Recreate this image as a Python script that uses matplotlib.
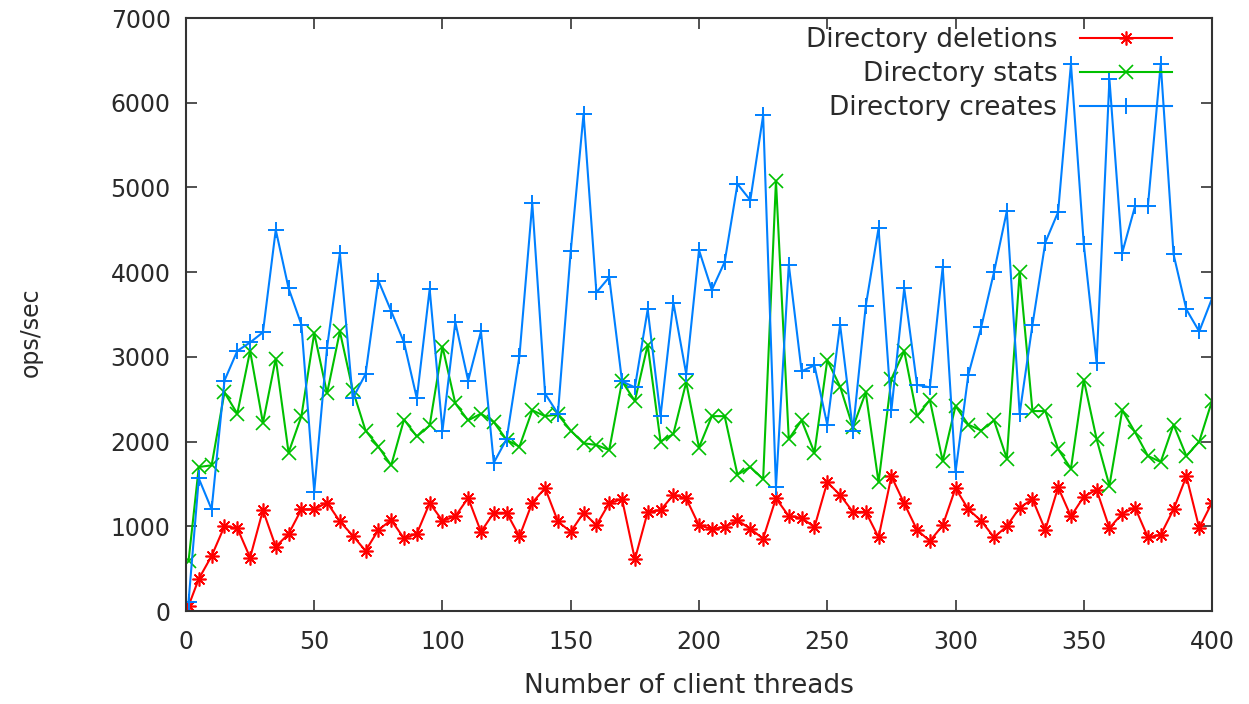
import matplotlib
matplotlib.use("Agg")
import matplotlib.pyplot as plt

threads = [1] + list(range(5, 401, 5))

deletions = [
    60, 380, 650, 1000, 980, 630, 1190, 760, 910, 1200,
    1200, 1280, 1057, 890, 710, 957, 1074, 857, 913, 1274,
    1065, 1117, 1335, 935, 1160, 1160, 880, 1280, 1450, 1057,
    935, 1160, 1013, 1274, 1320, 610, 1170, 1190, 1370, 1330,
    1010, 970, 990, 1070, 970, 855, 1330, 1120, 1100, 990,
    1520, 1370, 1170, 1170, 870, 1590, 1270, 957, 826, 1010,
    1450, 1200, 1065, 870, 1000, 1220, 1320, 957, 1460, 1117,
    1350, 1430, 980, 1150, 1220, 870, 900, 1200, 1590, 980,
    1280,
]

stats = [
    590, 1700, 1720, 2580, 2330, 3070, 2220, 2980, 1870, 2300,
    3280, 2570, 3300, 2610, 2130, 1940, 1720, 2260, 2060, 2190,
    3120, 2450, 2250, 2330, 2230, 2020, 1940, 2370, 2300, 2320,
    2130, 1980, 1960, 1900, 2710, 2480, 3140, 2000, 2090, 2700,
    1930, 2300, 2300, 1610, 1700, 1555, 5080, 2030, 2250, 1870,
    2960, 2650, 2170, 2580, 1520, 2740, 3070, 2300, 2490, 1770,
    2420, 2200, 2130, 2250, 1800, 4000, 2360, 2360, 1910, 1680,
    2730, 2030, 1480, 2370, 2110, 1830, 1760, 2200, 1830, 2000,
    2480,
]

creates = [
    110, 1565, 1200, 2720, 3070, 3170, 3290, 4500, 3810, 3380,
    1410, 3110, 4226, 2510, 2796, 3900, 3540, 3170, 2510, 3800,
    2130, 3410, 2720, 3300, 1750, 2030, 3010, 4813, 2565, 2330,
    4248, 5870, 3760, 3940, 2710, 2640, 3560, 2300, 3640, 2800,
    4260, 3790, 4120, 5040, 4850, 5850, 1460, 4090, 2830, 2900,
    2200, 3380, 2130, 3600, 4520, 2370, 3810, 2670, 2640, 4060,
    1640, 2790, 3350, 4000, 4720, 2330, 3380, 4350, 4710, 6460,
    4330, 2930, 6280, 4230, 4780, 4780, 6460, 4210, 3560, 3300,
    3690,
]

text_color = "#2a2a2a"
plt.rcParams["font.family"] = "DejaVu Sans"

fig = plt.figure(figsize=(12.49, 7.04), dpi=100)
ax = fig.add_axes([0.1489, 0.1321, 0.9704 - 0.1489, 0.9744 - 0.1321])

ax.plot(threads, deletions, color="#ff0000", lw=1.5, marker=(8, 2, 0),
        markersize=10, markeredgewidth=1.2, label="Directory deletions")
ax.plot(threads, stats, color="#00c000", lw=1.5, marker="x",
        markersize=10, markeredgewidth=1.2, label="Directory stats")
ax.plot(threads, creates, color="#0080ff", lw=1.5, marker="+",
        markersize=12, markeredgewidth=1.4, label="Directory creates")

ax.set_xlim(0, 400)
ax.set_ylim(0, 7000)
ax.set_xticks(range(0, 401, 50))
ax.set_yticks(range(0, 7001, 1000))
ax.tick_params(direction="in", length=8, width=1.2, top=True, right=True,
               labelsize=17, colors="#333333", labelcolor=text_color)
ax.tick_params(axis="x", pad=14)
ax.tick_params(axis="y", pad=11)
for spine in ax.spines.values():
    spine.set_linewidth(1.5)
    spine.set_color("#333333")

ax.set_xlabel("Number of client threads", fontsize=19, color=text_color)
ax.set_ylabel("ops/sec", fontsize=17, color=text_color)
ax.xaxis.set_label_coords(0.49, -0.105)
ax.yaxis.set_label_coords(-0.14, 0.47)

ax.legend(loc="upper right", bbox_to_anchor=(0.961, 0.985), frameon=False,
          markerfirst=False, fontsize=19, handlelength=3.5, handletextpad=0.85,
          labelspacing=0.3, borderpad=0, borderaxespad=0, labelcolor=text_color)

fig.savefig("out.png", dpi=100)
